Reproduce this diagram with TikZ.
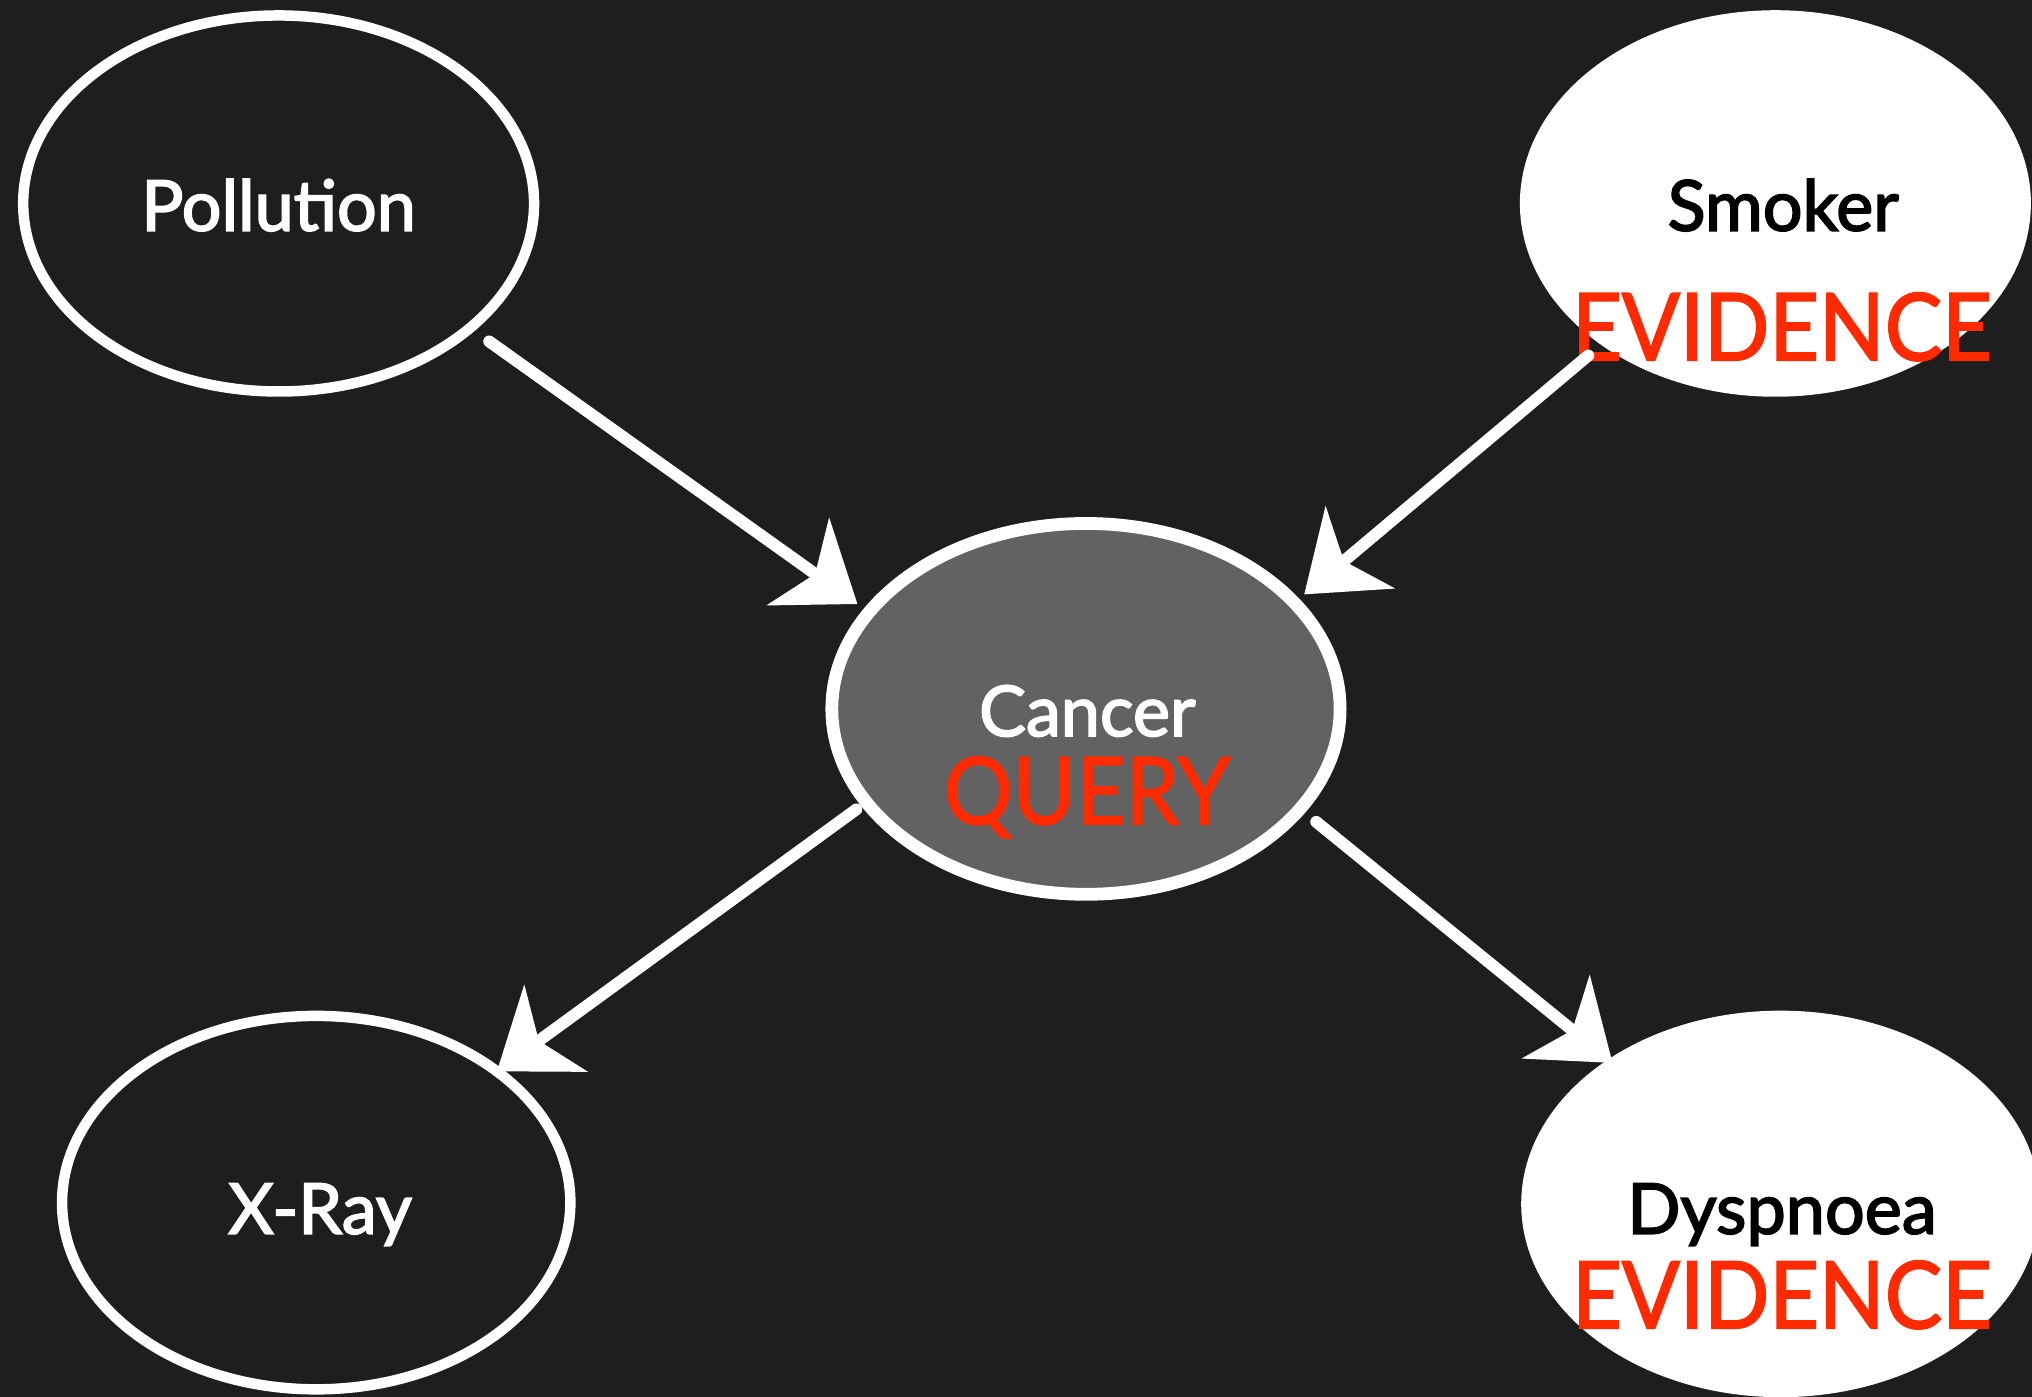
\documentclass[tikz,border=0pt]{standalone}
\usepackage{fontspec}
\setmainfont{Lato}
\newfontfamily\namefont[FakeBold=2.4]{Lato}
\newfontfamily\tagfont[FakeStretch=0.92, FakeBold=1.8]{Lato}
\usetikzlibrary{arrows.meta,shapes.geometric}
\definecolor{board}{RGB}{30,30,30}
\definecolor{chalkred}{RGB}{255,42,0}
\definecolor{slate}{RGB}{98,98,98}
\begin{document}
\begin{tikzpicture}[x=0.01cm,y=-0.01cm,
  varnode/.style={ellipse, draw=white, line width=2.3pt, outer sep=0pt, inner sep=0pt},
  hidden/.style={varnode},
  observed/.style={varnode, fill=white},
  queried/.style={varnode, fill=slate, line width=2.8pt},
  varname/.style={font=\namefont\fontsize{15.4}{18}\selectfont, anchor=base, inner sep=0pt},
  tag/.style={font=\tagfont\fontsize{20.5}{24}\selectfont, text=chalkred, anchor=base, inner sep=0pt},
  link/.style={draw=white, line width=2.6pt, line cap=round,
    -{Stealth[length=5.6mm, width=8.2mm, inset=1.6mm, fill=white]}}
]
% chalkboard
\fill[board] (0,0) rectangle (1568,1078);
\useasboundingbox (0,0) rectangle (1568,1078);
\clip (0,0) rectangle (1568,1078);

% variables of the network
\node[hidden,   minimum width=3.94cm, minimum height=2.90cm] (poll)   at (215,157)  {};
\node[observed, minimum width=3.86cm, minimum height=2.90cm] (smoker) at (1370,157) {};
\node[queried,  minimum width=3.92cm, minimum height=2.86cm] (cancer) at (838,547)  {};
\node[hidden,   minimum width=3.92cm, minimum height=2.88cm] (xray)   at (244,928)  {};
\node[observed, minimum width=3.92cm, minimum height=2.90cm] (dysp)   at (1374,929) {};

% names and roles
\node[varname, text=white] (pollname)   at (215,178)  {Pollution};
\node[varname, text=black] (smokername) at (1376,178) {Smoker};
\node[tag]                 (smokertag)  at (1375,278) {EVIDENCE};
\node[varname, text=white] (cancername) at (839,568)  {Cancer};
\node[tag]                 (cancertag)  at (839,636)  {QUERY};
\node[varname, text=white] (xrayname)   at (247,952)  {X-Ray};
\node[varname, text=black] (dyspname)   at (1375,952) {Dyspnoea};
\node[tag]                 (dysptag)    at (1375,1025) {EVIDENCE};

% dependencies
\draw[link, shorten <=1.8mm, shorten >=1.1mm] (poll.-33.8) -- (cancer.156.3);
\draw[link, shorten <=1.7mm, shorten >=1.0mm] (smoker.219.5) -- (cancer.27.4);
\draw[link, shorten <=0.95mm] (cancer.203.7) -- (xray.36.6);
\draw[link, shorten <=1.6mm] (cancer.-25.5) -- (dysp.140.2);
\end{tikzpicture}
\end{document}
